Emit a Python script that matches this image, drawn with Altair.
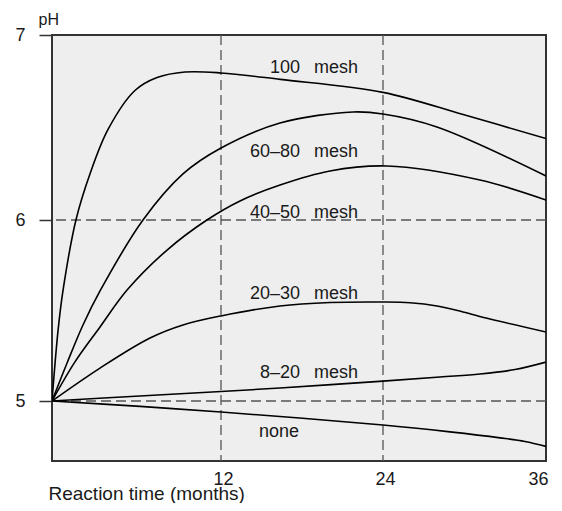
import altair as alt
import pandas as pd

# ---- data ----
month_ticks = [12, 24, 36]
ph_ticks = [5, 6, 7]
grid_months = [12, 24]
grid_ph = [5, 6]

series = ["100 mesh", "60–80 mesh", "40–50 mesh", "20–30 mesh", "8–20 mesh", "none"]

t_100 = [0, 0.43, 0.78, 1.70, 2.70, 3.98, 5.89, 7.46, 9.44, 12.0, 16.4, 24.0, 29.9, 36.0]
ph_100 = [5.00, 5.39, 5.61, 6.00, 6.25, 6.49, 6.70, 6.77, 6.80, 6.795, 6.76, 6.69, 6.57, 6.44]

t_6080 = [0, 1.07, 2.20, 3.41, 6.46, 9.30, 12.0, 16.37, 21.78, 24.0, 27.97, 36.0]
ph_6080 = [5.00, 5.21, 5.42, 5.608, 6.00, 6.249, 6.389, 6.524, 6.584, 6.573, 6.503, 6.238]

t_4050 = [0, 1.63, 3.41, 5.33, 8.17, 11.0, 13.41, 16.37, 20.07, 24.29, 31.14, 36.0]
ph_4050 = [5.00, 5.216, 5.409, 5.613, 5.834, 6.00, 6.103, 6.189, 6.265, 6.292, 6.216, 6.108]

t_2030 = [0, 3.41, 6.96, 9.30, 12.0, 16.37, 20.07, 24.0, 25.99, 27.98, 29.89, 31.88, 36.0]
ph_2030 = [5.00, 5.182, 5.348, 5.420, 5.470, 5.525, 5.544, 5.547, 5.543, 5.525, 5.492, 5.453, 5.381]

t_820 = [0, 6.25, 12.0, 16.37, 24.0, 28.2, 31.14, 33.72, 36.0]
ph_820 = [5.00, 5.028, 5.0525, 5.072, 5.110, 5.133, 5.149, 5.174, 5.215]

t_none = [0, 6.25, 12.0, 24.0, 28.93, 32.61, 34.45, 36.0]
ph_none = [5.00, 4.970, 4.939, 4.867, 4.829, 4.796, 4.776, 4.749]

label_text = ["100\u2002\u00a0mesh", "60–80\u2002\u00a0mesh", "40–50\u2002\u00a0mesh",
              "20–30\u2002\u00a0mesh", "8–20\u2002\u00a0mesh", "none"]
label_t = [22.15, 22.15, 22.15, 22.15, 22.15, 17.78]
label_ph = [6.793, 6.342, 6.011, 5.562, 5.129, 4.799]

# ---- build tables ----
rows = []
for name, ts, ps in zip(series,
                        [t_100, t_6080, t_4050, t_2030, t_820, t_none],
                        [ph_100, ph_6080, ph_4050, ph_2030, ph_820, ph_none]):
    for i, (t, p) in enumerate(zip(ts, ps)):
        rows.append({"series": name, "t": t, "ph": p, "order": i})
df = pd.DataFrame(rows)

labels_df = pd.DataFrame({"t": label_t, "ph": label_ph, "label": label_text})
vgrid_df = pd.DataFrame({"t": grid_months})
hgrid_df = pd.DataFrame({"ph": grid_ph})

FONT = "Liberation Sans"

xscale = alt.Scale(domain=[0, 12, 24, 36], range=[0, 169, 331, 494], nice=False, zero=False)
yscale = alt.Scale(domain=[4.668, 5, 6, 7], range=[426, 366, 185, 0], nice=False, zero=False)

x_axis = alt.Axis(values=month_ticks, ticks=False, tickSize=0, domain=False, grid=False,
                  labelFontSize=18, labelPadding=23, labelBaseline="alphabetic", labelOffset=2,
                  labelColor="#1a1a1a", labelFont=FONT,
                  title="Reaction time (months)", titleFontSize=19, titleFontWeight="normal",
                  titleFont=FONT, titleColor="#1a1a1a",
                  titleAlign="left", titleAnchor="start", titleX=-4, titleY=38,
                  titleBaseline="alphabetic")
y_axis = alt.Axis(values=ph_ticks, tickSize=13, tickColor="#333333", tickWidth=1.5,
                  domain=False, grid=False, format="d",
                  labelFontSize=18, labelPadding=14, labelFont=FONT, labelColor="#1a1a1a",
                  title="pH", titleAngle=0, titleAlign="left", titleBaseline="alphabetic",
                  titleX=-14, titleY=-11, titleFontSize=16, titleFontWeight="normal",
                  titleFont=FONT, titleColor="#1a1a1a")

X = lambda: alt.X("t:Q", scale=xscale, axis=x_axis)
Y = lambda: alt.Y("ph:Q", scale=yscale, axis=y_axis)

vgrid = alt.Chart(vgrid_df).mark_rule(strokeDash=[10, 5], color="#555555", strokeWidth=1.3).encode(
    x=X()
)
hgrid = alt.Chart(hgrid_df).mark_rule(strokeDash=[10, 5], color="#555555", strokeWidth=1.3).encode(
    y=Y()
)

lines = alt.Chart(df).mark_line(color="black", strokeWidth=1.6, interpolate="catmull-rom", clip=True).encode(
    x=X(),
    y=Y(),
    detail="series:N",
    order="order:Q",
)

texts = alt.Chart(labels_df).mark_text(align="right", baseline="alphabetic", fontSize=18,
                                       font=FONT, color="#1a1a1a").encode(
    x=X(),
    y=Y(),
    text="label:N",
)

chart = alt.layer(vgrid, hgrid, lines, texts).properties(
    width=494, height=426,
    background="white",
    autosize=alt.AutoSizeParams(type="none"),
    padding={"left": 44, "top": 27, "right": 8, "bottom": 42},
).configure_view(
    fill="#eeeeee", stroke="#333333", strokeWidth=2
)

chart.save("out.html", embed_options={"renderer": "svg", "actions": False})
